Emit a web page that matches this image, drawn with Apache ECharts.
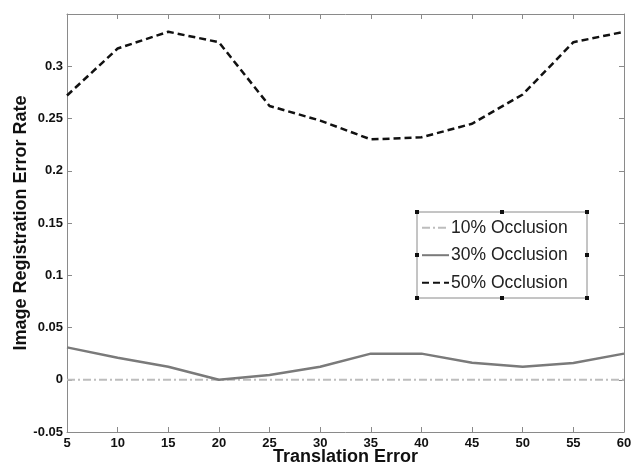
<!DOCTYPE html>
<html><head><meta charset="utf-8">
<script src="https://cdn.jsdelivr.net/npm/echarts@6/dist/echarts.min.js"></script>
<style>html,body{margin:0;padding:0;background:#fff}#c{width:638px;height:465px}</style>
</head><body><div id="c"></div>
<script>
var xValues = [5, 10, 15, 20, 25, 30, 35, 40, 45, 50, 55, 60];
var occ10 = [0, 0, 0, 0, 0, 0, 0, 0, 0, 0, 0, 0];
var occ30 = [0.031, 0.021, 0.0125, 0, 0.0045, 0.0125, 0.025, 0.025, 0.0163, 0.0125, 0.016, 0.025];
var occ50 = [0.272, 0.317, 0.333, 0.323, 0.262, 0.248, 0.230, 0.232, 0.245, 0.273, 0.323, 0.333];
var seriesNames = ['10% Occlusion', '30% Occlusion', '50% Occlusion'];

function pairs(arr) { return xValues.map(function (x, i) { return [x, arr[i]]; }); }
var font = 'Liberation Sans, Arial, sans-serif';
var axisCol = '#8a8a8a';

var chart = echarts.init(document.getElementById('c'));
var handles = [[417,212],[502,212],[587,212],[417,255],[587,255],[417,298],[502,298],[587,298]];
var graphics = [{
  type: 'rect', shape: { x: 417, y: 212, width: 170, height: 86 },
  style: { fill: '#fff', stroke: axisCol, lineWidth: 1 }, z: 50
}];
handles.forEach(function (h) {
  graphics.push({ type: 'rect', shape: { x: h[0] - 2, y: h[1] - 2, width: 4, height: 4 }, style: { fill: '#111' }, z: 60 });
});

function axisLineCfg() { return { show: true, onZero: false, lineStyle: { color: axisCol, width: 1 } }; }
function tickCfg() { return { inside: true, length: 5, lineStyle: { color: axisCol } }; }

chart.setOption({
  animation: false,
  backgroundColor: '#fff',
  grid: { left: 67, right: 14, top: 14, bottom: 33, containLabel: false, outerBoundsMode: 'none' },
  graphic: graphics,
  legend: {
    orient: 'vertical', left: 421, top: 218.7, z: 100, padding: 0,
    itemWidth: 27, itemHeight: 14, itemGap: 9.5,
    itemStyle: { opacity: 0 },
    textStyle: { fontFamily: font, fontSize: 17.5, lineHeight: 18, color: '#222', padding: [0, 0, 0, -3] },
    data: seriesNames
  },
  xAxis: [{
    type: 'value', min: 5, max: 60, interval: 5,
    name: 'Translation Error', nameLocation: 'middle', nameGap: 16.5, nameMoveOverlap: false,
    nameTextStyle: { fontFamily: font, fontSize: 18, fontWeight: 'bold', color: '#111' },
    axisLine: axisLineCfg(), axisTick: tickCfg(),
    axisLabel: { fontFamily: font, fontSize: 13, fontWeight: 'bold', color: '#111', margin: 5, showMinLabel: true, showMaxLabel: true },
    splitLine: { show: false }
  }, {
    type: 'value', position: 'top', min: 5, max: 60, interval: 5,
    axisLine: axisLineCfg(), axisTick: tickCfg(),
    axisLabel: { show: false }, splitLine: { show: false }
  }],
  yAxis: [{
    type: 'value', min: -0.05, max: 0.35, interval: 0.05,
    name: 'Image Registration Error Rate', nameLocation: 'middle', nameGap: 37, nameRotate: 90, nameMoveOverlap: false,
    nameTextStyle: { fontFamily: font, fontSize: 18, fontWeight: 'bold', color: '#111' },
    axisLine: axisLineCfg(), axisTick: tickCfg(),
    axisLabel: {
      fontFamily: font, fontSize: 13, fontWeight: 'bold', color: '#111', margin: 4,
      formatter: function (v) { if (v > 0.34) return ''; return String(parseFloat(v.toFixed(2))); }
    },
    splitLine: { show: false }
  }, {
    type: 'value', position: 'right', min: -0.05, max: 0.35, interval: 0.05,
    axisLine: axisLineCfg(), axisTick: tickCfg(),
    axisLabel: { show: false }, splitLine: { show: false }
  }],
  series: [{
    name: seriesNames[0], type: 'line', data: pairs(occ10), showSymbol: false, symbol: 'none',
    lineStyle: { color: '#bdbdbd', width: 2, type: [8, 3, 2, 3] }, itemStyle: { color: '#bdbdbd' }, z: 3
  }, {
    name: seriesNames[1], type: 'line', data: pairs(occ30), showSymbol: false, symbol: 'none',
    lineStyle: { color: '#7a7a7a', width: 2.5, type: 'solid' }, itemStyle: { color: '#7a7a7a' }, z: 4
  }, {
    name: seriesNames[2], type: 'line', data: pairs(occ50), showSymbol: false, symbol: 'none',
    lineStyle: { color: '#111', width: 2.5, type: [7, 4] }, itemStyle: { color: '#111' }, z: 5
  }]
});
</script></body></html>
